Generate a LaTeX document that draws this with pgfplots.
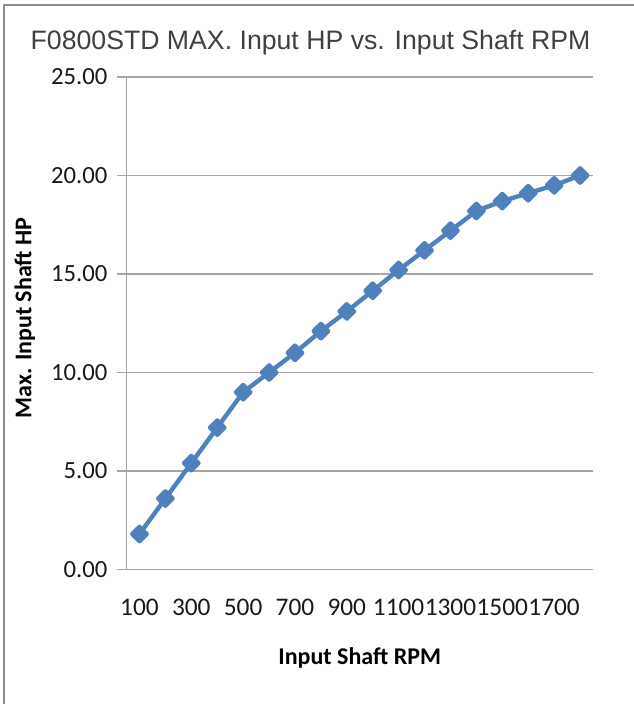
\documentclass[border=0pt]{standalone}
\usepackage{fontspec}
\setmainfont{Carlito}
\newfontfamily\titlefont{Liberation Sans}
\usepackage{pgfplots}
\pgfplotsset{compat=1.18}
\definecolor{xlblue}{HTML}{4F81BD}
\definecolor{gridgray}{HTML}{A6A6A6}
\definecolor{framegray}{HTML}{8C8C8C}
\begin{document}
\begin{tikzpicture}
\path[use as bounding box] (0,0) rectangle (475.5pt,528pt);
\draw[framegray, line width=1.5pt] (3pt,0) -- (3pt,524.6pt) -- (475.5pt,524.6pt);
\begin{axis}[
  at={(94.875pt,100.875pt)}, anchor=south west,
  scale only axis, width=349.875pt, height=369.375pt,
  xmin=0.5, xmax=18.5, ymin=0, ymax=25,
  axis x line*=bottom, axis y line*=left,
  axis line style={gridgray, line width=1.1pt, -},
  ymajorgrids, grid style={gridgray, line width=1.1pt},
  xtick={1,3,5,7,9,11,13,15,17},
  xticklabels={100,300,500,700,900,1100,1300,1500,1700},
  x tick style={draw=none},
  ytick={0,5,10,15,20,25},
  y tick style={gridgray, line width=1.1pt},
  tick align=outside, major tick length=6.75pt,
  /pgf/number format/assume math mode=true,
  yticklabel style={/pgf/number format/.cd, fixed, fixed zerofill, precision=2, /tikz/.cd, xshift=-4pt, font=\fontsize{18.5}{18.5}\selectfont},
  xticklabel style={yshift=-12pt, font=\fontsize{19}{19}\selectfont},
  ticklabel style={text=black!90},
  title={F0800STD MAX. Input HP vs. Input Shaft RPM},
  title style={at={(axis description cs:0.3945,1.0711)}, anchor=base, yshift=-12pt, font=\titlefont\fontsize{20}{20}\selectfont, text=black!75},
  xlabel={Input Shaft RPM},
  xlabel style={at={(axis description cs:0.5,-0.18)}, anchor=center, font=\bfseries\fontsize{18}{18}\selectfont},
  ylabel={Max. Input Shaft HP},
  ylabel style={at={(axis description cs:-0.218,0.511)}, anchor=center, font=\bfseries\fontsize{18}{18}\selectfont},
  clip=false,
]
\addplot[xlblue, line width=3.3pt, line join=round, mark=square*, mark size=3.8pt, mark options={rotate=45, solid, fill=xlblue}]
coordinates {
(1,1.8) (2,3.6) (3,5.4) (4,7.2) (5,9.0) (6,10.0) (7,11.0) (8,12.1) (9,13.1)
(10,14.15) (11,15.2) (12,16.2) (13,17.2) (14,18.2) (15,18.7) (16,19.1) (17,19.5) (18,20.0)
};
\end{axis}
\end{tikzpicture}
\end{document}
